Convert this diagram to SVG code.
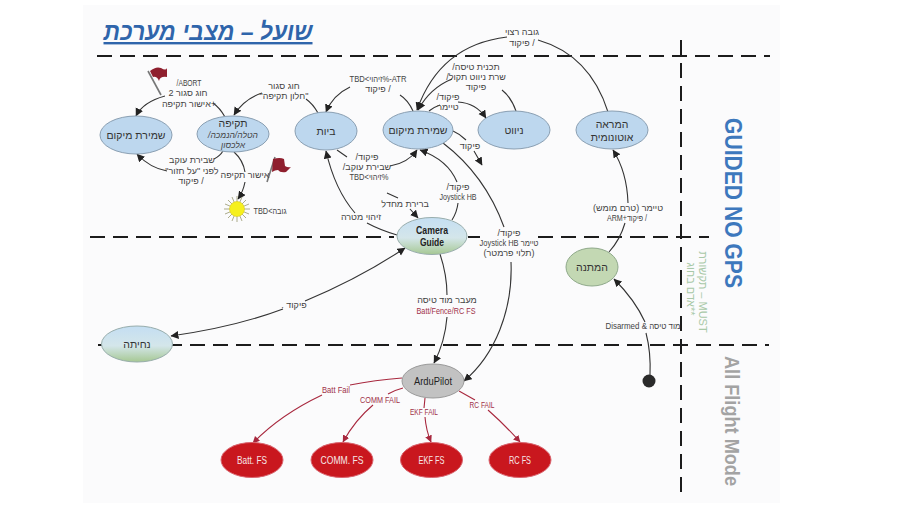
<svg xmlns="http://www.w3.org/2000/svg" width="906" height="510" viewBox="0 0 906 510">
<style>
text{font-family:"Liberation Sans","Noto Sans",sans-serif;text-anchor:middle;direction:rtl;unicode-bidi:embed}
.l{font-size:9px;fill:#444}
.m{font-size:9px;fill:#444}
.r{font-size:9px;fill:#a03048}
.n{font-size:10.500px;fill:#333}
.w{font-size:11px;fill:#f6e6e6;direction:ltr}
.s{font-size:8.500px;fill:#444;font-style:italic}
.c{fill:none;stroke:#333;stroke-width:1.1}
.f{fill:none;stroke:#a8283e;stroke-width:1.1}
.d{fill:none;stroke:#1c1c1c;stroke-width:2;stroke-dasharray:15 8}
.b{fill:#bdd7ee;stroke:#8a9fb2;stroke-width:1}
.g{fill:url(#sky);stroke:#98adac;stroke-width:1}
.e{fill:#c9171e;stroke:#d9646e;stroke-width:1}
</style>
<defs>
<marker id="a" markerWidth="9" markerHeight="9" refX="7.5" refY="4" orient="auto-start-reverse" markerUnits="userSpaceOnUse"><path d="M0,0L8,4L0,8Z" fill="#222"/></marker>
<marker id="ar" markerWidth="8" markerHeight="8" refX="6.5" refY="3.5" orient="auto" markerUnits="userSpaceOnUse"><path d="M0,0L7,3.5L0,7Z" fill="#a8283e"/></marker>
<linearGradient id="sky" x1="0" y1="0" x2="0" y2="1"><stop offset="0" stop-color="#c4def2"/><stop offset="0.55" stop-color="#d4e6ea"/><stop offset="1" stop-color="#a6c893"/></linearGradient>
</defs>
<rect width="906" height="510" fill="#fff"/>
<rect x="83" y="5" width="697" height="498" fill="#fbfbfc"/>
<g id="frame">
<path class="d" d="M97,56H770"/>
<path class="d" d="M90,237H394"/>
<path class="d" d="M468,237H480"/>
<path class="d" d="M538,237H709"/>
<path class="d" d="M98,345H769"/>
<path class="d" d="M681,40V494"/>
</g>
<g id="titles">
<text x="208" y="40" font-size="24" font-weight="bold" font-style="italic" fill="#2f65ab" text-decoration="underline" textLength="209" lengthAdjust="spacingAndGlyphs">שועל – מצבי מערכת</text>
<text transform="translate(725,203) rotate(90)" font-size="24" font-weight="bold" fill="#3d78bd" style="direction:ltr" textLength="170" lengthAdjust="spacingAndGlyphs">GUIDED NO GPS</text>
<text transform="translate(725,421) rotate(90)" font-size="21" font-weight="bold" fill="#a3a3a3" style="direction:ltr" textLength="130" lengthAdjust="spacingAndGlyphs">All Flight Mode</text>
<text transform="translate(699,292) rotate(90)" font-size="11" fill="#a9c9a8">MUST – תקשורת</text>
<text transform="translate(687,289) rotate(90)" font-size="11" fill="#a9c9a8">**אדם בחוג</text>
</g>
<g id="connectors">
<path class="c" marker-end="url(#a)" d="M225,117Q220,108 213,103M165,96Q143,102 136,116"/>
<path class="c" marker-end="url(#a)" d="M223,151Q220,156 214,159M167,171Q150,168 137,154"/>
<path class="c" marker-end="url(#a)" d="M318,113Q313,104 306,99M262,93Q244,99 234,115"/>
<path class="c" marker-end="url(#a)" d="M234,152Q243,160 245,172M245,182Q243,192 238,199"/>
<path class="c" marker-end="url(#a)" d="M413,111Q408,100 400,95M350,87Q333,95 326,112"/>
<path class="c" marker-end="url(#a)" d="M608,112Q590,55 538,40M507,37Q440,45 417,110"/>
<path class="c" marker-end="url(#a)" d="M516,111Q511,97 502,90M452,79Q430,88 418,110"/>
<path class="c" marker-end="url(#a)" d="M429,111Q434,107 440,105M458,102Q476,103 486,118"/>
<path class="c" marker-end="url(#a)" d="M453,131Q460,134 466,140M474,151L482,165"/>
<path class="c" marker-end="url(#a)" d="M337,150L347,157M390,166Q408,163 417,150"/>
<path class="c" marker-end="url(#a)" d="M452,220Q457,212 458,203M457,182Q448,160 420,150"/>
<path class="c" marker-end="url(#a)" d="M387,193L398,198M410,209L418,218"/>
<path class="c" marker-end="url(#a)" d="M397,235Q380,230 367,223M355,213Q335,190 326,151"/>
<path class="c" marker-end="url(#a)" d="M440,254Q447,275 447,295M447,317Q445,342 434,363"/>
<path class="c" marker-end="url(#a)" d="M443,143Q485,175 504,227M511,262C513,310 495,355 464,381"/>
<path class="c" marker-start="url(#a)" marker-end="url(#a)" d="M405,248Q360,278 305,301M283,309Q235,327 171,336"/>
<path class="c" marker-end="url(#a)" d="M650,375Q651,352 646,333M645,322Q635,300 614,279"/>
<path class="c" marker-end="url(#a)" d="M609,252Q620,240 625,223M628,203Q627,172 613,150"/>
<path class="f" marker-end="url(#ar)" d="M402,378Q375,380 350,385M322,395Q280,415 253,443"/>
<path class="f" marker-end="url(#ar)" d="M403,388Q395,390 388,394M373,405Q355,420 343,442"/>
<path class="f" marker-end="url(#ar)" d="M425,398L424,408M425,417Q426,430 431,442"/>
<path class="f" marker-end="url(#ar)" d="M459,391L475,400M488,410Q505,425 520,442"/>
</g>
<g id="flag-abort">
<path d="M148,71L161,95" stroke="#777" stroke-width="1.6" fill="none"/>
<path d="M150,71Q156,66 161,68Q166,71 167,68L167,77Q160,76 159,81Q157,76 153,77Z" fill="#8f1f2e"/>
</g>
<g id="flag-confirm">
<path d="M275,157L267,182" stroke="#777" stroke-width="1.6" fill="none"/>
<path d="M273,159Q280,157 284,159L285,166Q288,168 291,167L286,172Q280,173 278,170Q275,170 272,172Z" fill="#8f1f2e"/>
</g>
<g id="sun">
<path d="M237,196V222M224,209H250M228,200L246,218M246,200L228,218M232,197L242,221M242,197L232,221M225,204L249,214M249,204L225,214" stroke="#8a8a5a" stroke-width=".7" fill="none"/>
<circle cx="237" cy="209" r="7.500" fill="#f6f01c" stroke="#d8c820" stroke-width=".6"/>
</g>
<g id="node-hold-left"><ellipse class="b" cx="136" cy="135" rx="36" ry="19"/><text class="n" x="136" y="139">שמירת מיקום</text></g>
<g id="node-attack"><ellipse class="b" cx="233" cy="134" rx="36" ry="18"/><text class="n" x="233" y="127">תקיפה</text><text class="s" x="233" y="138">הטלה/הנמכה/</text><text class="s" x="233" y="148">אלכסון</text></g>
<g id="node-home"><ellipse class="b" cx="326" cy="131" rx="31" ry="19"/><text class="n" x="326" y="135">ביות</text></g>
<g id="node-hold"><ellipse class="b" cx="418" cy="130" rx="35" ry="19"/><text class="n" x="418" y="134">שמירת מיקום</text></g>
<g id="node-nav"><ellipse class="b" cx="514" cy="130" rx="36" ry="19"/><text class="n" x="514" y="134">ניווט</text></g>
<g id="node-takeoff"><ellipse class="b" cx="612" cy="130" rx="36" ry="19"/><text class="n" x="612" y="128">המראה</text><text class="n" x="612" y="141">אוטונומית</text></g>
<g id="node-camera"><ellipse class="g" cx="432" cy="236" rx="35" ry="18.500"/><text x="432" y="234" font-size="10.500" font-weight="bold" fill="#222" style="direction:ltr" textLength="32" lengthAdjust="spacingAndGlyphs">Camera</text><text x="432" y="246" font-size="10.500" font-weight="bold" fill="#222" style="direction:ltr" textLength="24" lengthAdjust="spacingAndGlyphs">Guide</text></g>
<g id="node-wait"><ellipse cx="592" cy="267" rx="26" ry="19" fill="#c3d8b3" stroke="#8fa98a"/><text class="n" x="592" y="271">המתנה</text></g>
<g id="node-land"><ellipse class="g" cx="137" cy="344" rx="35.500" ry="18"/><text class="n" x="137" y="348">נחיתה</text></g>
<g id="node-ardupilot"><ellipse cx="433" cy="381" rx="31" ry="17" fill="#c2c2c2" stroke="#9a9a9a"/><text x="433" y="385" font-size="11" fill="#222" style="direction:ltr" textLength="38" lengthAdjust="spacingAndGlyphs">ArduPilot</text></g>
<g id="node-batt"><ellipse class="e" cx="252" cy="460" rx="31" ry="17.500"/><text class="w" x="252" y="464" textLength="30" lengthAdjust="spacingAndGlyphs">Batt. FS</text></g>
<g id="node-comm"><ellipse class="e" cx="342" cy="460" rx="31" ry="17.500"/><text class="w" x="342" y="464" textLength="43" lengthAdjust="spacingAndGlyphs">COMM. FS</text></g>
<g id="node-ekf"><ellipse class="e" cx="431.500" cy="460" rx="31" ry="17.500"/><text class="w" x="431.500" y="464" textLength="26" lengthAdjust="spacingAndGlyphs">EKF FS</text></g>
<g id="node-rc"><ellipse class="e" cx="520" cy="460" rx="31" ry="17.500"/><text class="w" x="520" y="464" textLength="22" lengthAdjust="spacingAndGlyphs">RC FS</text></g>
<g id="node-start"><circle cx="649" cy="381" r="6.500" fill="#2a2a2a"/></g>
<g id="labels">
<text class="m" x="189" y="86" textLength="25" lengthAdjust="spacingAndGlyphs">ABORT/</text>
<text class="l" x="188" y="96">חוג סגור 2</text>
<text class="l" x="189" y="107">+אישור תקיפה</text>
<text class="l" x="284" y="89">חוג סגור</text>
<text class="l" x="284" y="99">"חלון תקיפה"</text>
<text class="l" x="192" y="163">שבירת עוקב</text>
<text class="l" x="192" y="174">לפני "על חזור"</text>
<text class="l" x="191" y="184">/ פיקוד</text>
<text class="l" x="245" y="178">אישור תקיפה</text>
<text class="m" x="270" y="214" textLength="33" lengthAdjust="spacingAndGlyphs">גובה&gt;TBD</text>
<text class="m" x="378" y="82" textLength="57" lengthAdjust="spacingAndGlyphs">ATR-%זיהוי&gt;TBD</text>
<text class="l" x="378" y="92">/ פיקוד</text>
<text class="l" x="476" y="70">תכנית טיסה/</text>
<text class="l" x="476" y="80">שרת ניווט תקול/</text>
<text class="l" x="476" y="90">פיקוד</text>
<text class="l" x="448" y="100">פיקוד/</text>
<text class="l" x="448" y="110">טיימר</text>
<text class="l" x="470" y="149">פיקוד</text>
<text class="l" x="522" y="35">גובה רצוי</text>
<text class="l" x="522" y="46">/ פיקוד</text>
<text class="l" x="367" y="160">פיקוד/</text>
<text class="l" x="367" y="170">שבירת עוקב/</text>
<text class="m" x="369" y="180" textLength="39" lengthAdjust="spacingAndGlyphs">%זיהוי&gt;TBD</text>
<text class="l" x="405" y="207">ברירת מחדל</text>
<text class="l" x="361" y="220">זיהוי מטרה</text>
<text class="l" x="458" y="190">פיקוד/</text>
<text class="m" x="458" y="200" style="direction:ltr" textLength="37" lengthAdjust="spacingAndGlyphs">Joystick HB</text>
<text class="l" x="509" y="236">פיקוד/</text>
<text class="m" x="509" y="246" textLength="59" lengthAdjust="spacingAndGlyphs">טיימר Joystick HB</text>
<text class="l" x="509" y="256">(תלוי פרמטר)</text>
<text class="l" x="628" y="211">טיימר (טרם מומש)</text>
<text class="m" x="627" y="221" textLength="40" lengthAdjust="spacingAndGlyphs">/  פיקוד+ARM</text>
<text class="l" x="447" y="303">מעבר מוד טיסה</text>
<text class="r" x="446" y="314" style="direction:ltr" textLength="59" lengthAdjust="spacingAndGlyphs">Batt/Fence/RC FS</text>
<text class="m" x="643" y="329" textLength="75" lengthAdjust="spacingAndGlyphs">מוד טיסה &amp; Disarmed</text>
<text class="l" x="294" y="308">פיקוד .</text>
<text class="r" x="336" y="393" style="direction:ltr" textLength="28" lengthAdjust="spacingAndGlyphs">Batt Fail</text>
<text class="r" x="380" y="403" style="direction:ltr" textLength="40" lengthAdjust="spacingAndGlyphs">COMM FAIL</text>
<text class="r" x="424" y="415" style="direction:ltr" textLength="28" lengthAdjust="spacingAndGlyphs">EKF FAIL</text>
<text class="r" x="482" y="408" style="direction:ltr" textLength="25" lengthAdjust="spacingAndGlyphs">RC FAIL</text>
</g>
</svg>
